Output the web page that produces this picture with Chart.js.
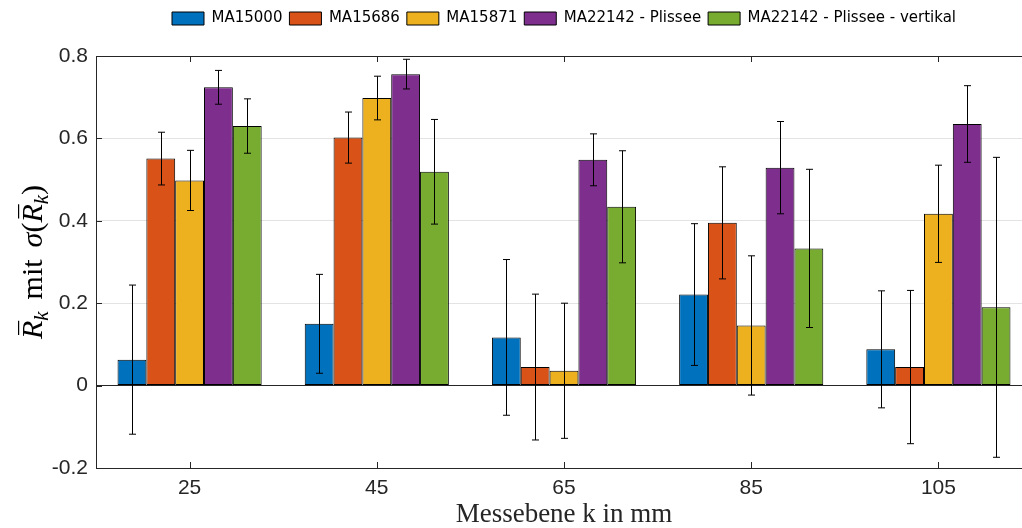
<!DOCTYPE html>
<html lang="de">
<head>
<meta charset="utf-8">
<title>Messebene</title>
<script src="https://cdn.jsdelivr.net/npm/chart.js"></script>
<style>
  html, body { margin: 0; padding: 0; background: #fff; overflow: hidden; }
  #wrap { width: 1128px; height: 528px; }
</style>
</head>
<body>
<div id="wrap"><canvas id="chart"></canvas></div>
<script>
// Messebenen (mm)
const positions = [25, 45, 65, 85, 105];
const seriesNames = ['MA15000', 'MA15686', 'MA15871', 'MA22142 - Plissee', 'MA22142 - Plissee - vertikal'];
const seriesColors = ['#0072BD', '#D95319', '#EDB120', '#7E2F8E', '#77AC30'];

// Mittelwerte R_k
const ma15000 = [0.063, 0.150, 0.117, 0.221, 0.088];
const ma15686 = [0.551, 0.602, 0.045, 0.395, 0.045];
const ma15871 = [0.498, 0.698, 0.036, 0.146, 0.417];
const ma22142 = [0.724, 0.756, 0.548, 0.529, 0.635];
const ma22142v = [0.630, 0.519, 0.434, 0.333, 0.190];

// Standardabweichung sigma(R_k)
const ma15000Err = [0.181, 0.120, 0.189, 0.172, 0.142];
const ma15686Err = [0.064, 0.062, 0.177, 0.136, 0.186];
const ma15871Err = [0.073, 0.053, 0.164, 0.169, 0.118];
const ma22142Err = [0.041, 0.036, 0.063, 0.112, 0.093];
const ma22142vErr = [0.066, 0.127, 0.136, 0.192, 0.364];

const yTicks = [-0.2, 0, 0.2, 0.4, 0.6, 0.8];

const values = [ma15000, ma15686, ma15871, ma22142, ma22142v];
const errors = [ma15000Err, ma15686Err, ma15871Err, ma22142Err, ma22142vErr];

const axisColor = '#262626';

const datasets = seriesNames.map((name, i) => ({
    label: name,
    data: positions.map((p, j) => ({x: p, y: values[i][j]})),
    backgroundColor: seriesColors[i],
    borderColor: '#000',
    borderWidth: 1,
    borderSkipped: false,
    categoryPercentage: 0.77,
    barPercentage: 1.0,
    errors: errors[i]
}));

// y label in math style: R̄_k mit σ(R̄_k)
const yLabelParts = [
    {t: 'R', it: true, bar: true}, {t: 'k', it: true, sub: true},
    {t: ' mit ', it: false, gap: true}, {t: '\u03c3', it: true}, {t: '(', it: false},
    {t: 'R', it: true, bar: true}, {t: 'k', it: true, sub: true}, {t: ')', it: false}
];

// error bars, box, inward ticks, y label
const decorations = {
    id: 'decorations',
    afterLayout(chart) {
        // legend sits centred over the axes, a bit higher
        chart.legend.top -= 20;
        chart.legend.bottom -= 20;
        chart.legend.left += 48;
        chart.legend.right += 48;
    },
    afterDatasetsDraw(chart) {
        const ctx = chart.ctx;
        const y = chart.scales.y;
        ctx.save();
        ctx.strokeStyle = '#000';
        ctx.lineWidth = 1;
        chart.data.datasets.forEach((ds, i) => {
            const meta = chart.getDatasetMeta(i);
            meta.data.forEach((bar, j) => {
                const v = ds.data[j].y, e = ds.errors[j];
                const x = Math.round(bar.x) + 0.5;
                const top = y.getPixelForValue(v + e);
                const bot = y.getPixelForValue(v - e);
                ctx.beginPath();
                ctx.moveTo(x, top); ctx.lineTo(x, bot);
                ctx.moveTo(x - 3.5, top); ctx.lineTo(x + 3.5, top);
                ctx.moveTo(x - 3.5, bot); ctx.lineTo(x + 3.5, bot);
                ctx.stroke();
            });
        });
        ctx.restore();
    },
    afterDraw(chart) {
        const ctx = chart.ctx;
        const a = chart.chartArea;
        const x = chart.scales.x, y = chart.scales.y;
        ctx.save();
        ctx.strokeStyle = axisColor;
        ctx.lineWidth = 1;
        ctx.strokeRect(Math.round(a.left) + 0.5, Math.round(a.top) + 0.5, Math.round(a.right - a.left), Math.round(a.bottom - a.top));
        ctx.beginPath();
        yTicks.forEach(t => {
            const py = Math.round(y.getPixelForValue(t)) + 0.5;
            ctx.moveTo(a.left, py); ctx.lineTo(a.left + 6, py);
        });
        positions.forEach(p => {
            const px = Math.round(x.getPixelForValue(p)) + 0.5;
            ctx.moveTo(px, a.bottom); ctx.lineTo(px, a.bottom - 6);
            ctx.moveTo(px, a.top); ctx.lineTo(px, a.top + 6);
        });
        ctx.stroke();

        // rotated y label
        const size = 30;
        const gap = size * 0.15;
        const fontOf = (p) => (p.it ? 'italic ' : '') + Math.round(p.sub ? size * 0.7 : size) + 'px "Liberation Serif"';
        const widthOf = (p) => { ctx.font = fontOf(p); return ctx.measureText(p.t).width + (p.gap ? 2 * gap : 0); };
        let total = 0;
        yLabelParts.forEach(p => { total += widthOf(p); });
        ctx.translate(42, (a.top + a.bottom) / 2);
        ctx.rotate(-Math.PI / 2);
        ctx.fillStyle = '#000';
        ctx.strokeStyle = '#000';
        ctx.textBaseline = 'alphabetic';
        let cx = -total / 2;
        yLabelParts.forEach(p => {
            const w = widthOf(p);
            ctx.font = fontOf(p);
            ctx.fillText(p.t, cx + (p.gap ? gap : 0), p.sub ? size * 0.2 : 0);
            if (p.bar) {
                ctx.lineWidth = 1.2;
                ctx.beginPath();
                ctx.moveTo(cx + w * 0.22, -size * 0.78);
                ctx.lineTo(cx + w * 1.0, -size * 0.78);
                ctx.stroke();
            }
            cx += w;
        });
        ctx.restore();
    }
};

new Chart(document.getElementById('chart'), {
    type: 'bar',
    data: {datasets: datasets},
    plugins: [decorations],
    options: {
        responsive: true,
        maintainAspectRatio: false,
        animation: false,
        layout: {padding: {top: 24, right: 96, bottom: 0, left: 0}},
        plugins: {
            tooltip: {enabled: false},
            legend: {
                position: 'top',
                align: 'center',
                labels: {
                    boxWidth: 32,
                    boxHeight: 13,
                    padding: 7,
                    color: '#000',
                    font: {family: 'DejaVu Sans', size: 15}
                }
            }
        },
        scales: {
            x: {
                type: 'linear',
                min: 15,
                max: 115,
                offset: false,
                afterBuildTicks: s => { s.ticks = positions.map(v => ({value: v})); },
                afterFit: s => { s.height = 60; },
                grid: {display: false, drawTicks: false},
                border: {display: false},
                ticks: {
                    color: axisColor,
                    padding: 8,
                    font: {family: 'Liberation Sans', size: 21}
                },
                title: {
                    display: true,
                    text: 'Messebene k in mm',
                    color: axisColor,
                    padding: {top: 0, bottom: 0},
                    font: {family: 'Liberation Serif', size: 27, lineHeight: 1}
                }
            },
            y: {
                min: -0.2,
                max: 0.8,
                afterBuildTicks: s => { s.ticks = yTicks.map(v => ({value: v})); },
                afterFit: s => { s.width = 96; },
                grid: {
                    drawTicks: false,
                    color: c => c.tick && Math.abs(c.tick.value) < 1e-9 ? axisColor : '#e3e3e3',
                    lineWidth: 1
                },
                border: {display: false},
                ticks: {
                    color: axisColor,
                    padding: 8,
                    font: {family: 'Liberation Sans', size: 21},
                    callback: v => String(Math.round(v * 10) / 10)
                }
            }
        }
    }
});
</script>
</body>
</html>
